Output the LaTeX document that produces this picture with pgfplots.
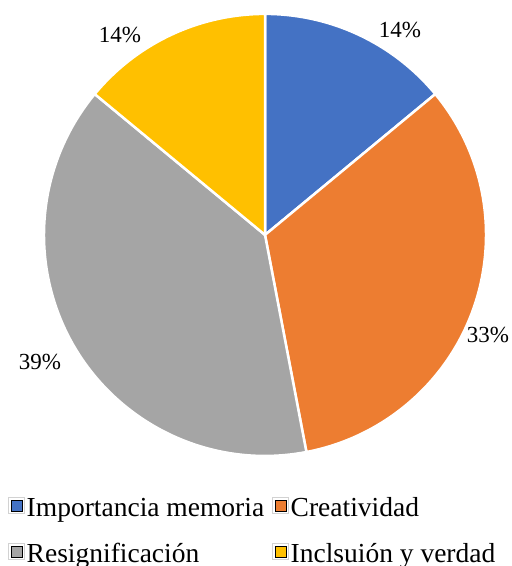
\documentclass[border=0pt]{standalone}
\usepackage{pgfplots}
\usepackage{pgfplotstable}
\pgfplotsset{compat=1.18}
\usepackage{fontspec}
\setmainfont{Liberation Serif}
\definecolor{c0}{HTML}{4472C4}
\definecolor{c1}{HTML}{ED7D31}
\definecolor{c2}{HTML}{A5A5A5}
\definecolor{c3}{HTML}{FFC000}
\pgfplotstableread{
name value lx ly
Importancia 14 0.611 0.928
Creatividad 33 1.009 -0.452
Resignificacion 39 -1.018 -0.575
Inclusion 14 -0.656 0.905
}\piedata
\begin{document}
\begin{tikzpicture}
\begin{axis}[
  name=ax,
  scale only axis, width=511pt, height=566pt,
  xmin=-1.199, xmax=1.113, ymin=-1.498, ymax=1.063,
  hide axis, clip=false,
  legend columns=2,
  legend cell align=left,
  legend image code/.code={%
    \draw[draw=gray!35, line width=0.5pt, fill=white] (0pt,-6pt) rectangle (16pt,10pt);
    \fill[#1] (2.5pt,-3.5pt) rectangle (13.5pt,7.5pt);},
  legend style={draw=none, fill=none, at={(0.0157,0.125)}, anchor=north west,
    font=\fontsize{27.5}{31}\selectfont, row sep=21pt,
    /tikz/every even column/.append style={column sep=6pt},
    /tikz/every odd column/.append style={column sep=0pt},
    inner sep=0pt},
]
\addlegendimage{fill=c0}\addlegendentry{Importancia memoria}
\addlegendimage{fill=c1}\addlegendentry{Creatividad}
\addlegendimage{fill=c2}\addlegendentry{Resignificación}
\addlegendimage{fill=c3}\addlegendentry{Inclsuión y verdad}
\def\angstart{90}
\pgfplotsforeachungrouped \i in {0,...,3}{%
  \pgfplotstablegetelem{\i}{value}\of\piedata \let\v\pgfplotsretval
  \pgfplotstablegetelem{\i}{lx}\of\piedata \let\lx\pgfplotsretval
  \pgfplotstablegetelem{\i}{ly}\of\piedata \let\ly\pgfplotsretval
  \pgfmathsetmacro\angend{\angstart - 3.6*\v}%
  \pgfmathsetmacro\sx{cos(\angstart)}%
  \pgfmathsetmacro\sy{sin(\angstart)}%
  \edef\cmd{\noexpand\fill[fill=c\i, draw=white, line width=2.5pt, line join=round]
    (axis cs:0,0) -- (axis cs:\sx,\sy) arc[start angle=\angstart, end angle=\angend, radius=1] -- cycle;
    \noexpand\node[font=\noexpand\fontsize{23}{26}\noexpand\selectfont] at (axis cs:\lx,\ly) {\v\noexpand\%};}%
  \cmd
  \global\let\angstart\angend
}
\end{axis}
\pgfresetboundingbox
\path (ax.south west) rectangle (ax.north east);
\end{tikzpicture}
\end{document}
